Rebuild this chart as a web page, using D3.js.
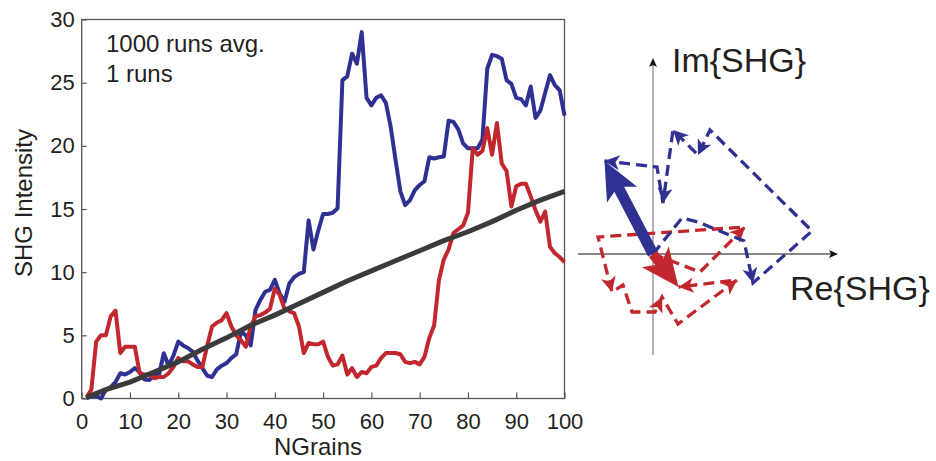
<!DOCTYPE html>
<html>
<head>
<meta charset="utf-8">
<script src="https://cdn.jsdelivr.net/npm/d3@7"></script>
<style>
  body { margin: 0; background: #fff; }
  svg { display: block; font-family: "Liberation Sans", Arial, Helvetica, sans-serif; }
</style>
</head>
<body>
<div id="chart"></div>
<script>
// grain counts on the x axis
const nGrains = d3.range(1, 101);

// single run, blue
const blueRun = [
  0.0, 0.2, 0.2, 0.0, 0.7, 0.9, 1.3, 2.0, 1.9, 2.1,
  2.4, 2.1, 1.5, 1.46, 1.86, 1.86, 3.58, 2.6, 3.4, 4.5,
  4.2, 4.0, 3.7, 3.0, 2.4, 1.8, 1.7, 2.3, 2.6, 2.8,
  3.2, 3.5, 5.3, 5.0, 4.2, 7.0, 7.8, 8.45, 8.6, 9.4,
  8.3, 7.66, 9.1, 9.6, 9.86, 10.0, 14.1, 11.8, 13.3, 14.6,
  14.6, 14.7, 15.06, 25.2, 25.5, 27.3, 26.5, 29.0, 23.8, 23.2,
  23.8, 24.0, 23.4, 21.5, 18.9, 16.4, 15.3, 15.7, 16.5, 16.9,
  17.2, 19.1, 19.0, 19.1, 19.15, 22.0, 21.9, 21.3, 20.2, 19.8,
  19.8, 19.8, 20.5, 26.1, 27.2, 27.1, 26.9, 25.2, 24.9, 23.8,
  23.7, 23.2, 24.7, 22.2, 22.8, 24.2, 25.6, 24.8, 24.4, 22.4
];

// single run, red
const redRun = [
  0.1, 0.7, 4.5, 5.0, 5.0, 6.5, 6.95, 3.6, 4.1, 4.1,
  4.1, 2.0, 1.9, 1.9, 1.6, 1.7, 1.7, 2.0, 2.5, 3.2,
  2.95, 2.95, 2.7, 2.5, 2.5, 4.2, 5.7, 6.0, 6.2, 6.75,
  5.7, 5.0, 4.6, 4.1, 5.7, 6.5, 6.6, 6.8, 7.1, 8.7,
  8.2, 7.1, 6.9, 6.75, 5.7, 3.6, 4.4, 4.3, 4.3, 4.5,
  3.3, 2.6, 2.7, 3.4, 1.9, 2.4, 1.7, 2.1, 2.0, 2.5,
  2.6, 3.2, 3.6, 3.6, 3.6, 3.5, 2.9, 2.8, 2.9, 2.7,
  3.3, 4.8, 5.8, 9.4, 11.0, 11.8, 13.1, 13.4, 13.7, 14.7,
  19.8, 19.3, 19.6, 21.4, 19.3, 21.8, 18.6, 18.0, 15.2, 16.8,
  17.0, 17.0, 16.0, 14.9, 14.0, 14.8, 12.0, 11.5, 11.2, 10.8
];

// 1000 runs average
const avgN = [1, 5, 10, 15, 20, 25, 30, 35, 40, 45, 50, 55, 60, 65, 70, 75, 80, 85, 90, 95, 100];
const avgSHG = [0.1, 0.7, 1.3, 2.1, 2.9, 3.9, 4.8, 5.8, 6.6, 7.5, 8.4, 9.3, 10.1, 10.9, 11.7, 12.5, 13.2, 14.0, 14.9, 15.7, 16.4];

const xTicks = [0, 10, 20, 30, 40, 50, 60, 70, 80, 90, 100];
const yTicks = [0, 5, 10, 15, 20, 25, 30];
const legendLines = ["1000 runs avg.", "1 runs"];

// phasor random walks (Re, Im), arbitrary units
const blueRe = [0, 2.9, 4.5, 9.1, 10.0, 15.9, 5.7, 4.5, 2.0, 1.0, 0.4, -4.85];
const blueIm = [0, 3.6, 3.2, 1.3, -2.9, 2.3, 12.4, 9.9, 12.4, 5.1, 8.7, 9.3];
const blueHeads = [4, 7, 8, 9, 11];
const redRe = [0, 4.7, 9.2, -5.5, -4.1, -3.0, -2.1, 0.2, 0.9, 2.5, 8.4, 2.55];
const redIm = [0, -1.8, 2.7, 1.7, -3.8, -3.1, -5.8, -5.8, -4.3, -7.0, -2.6, -3.3];
const redHeads = [2, 4, 8, 10, 11];

const blue = "#2e3192", red = "#c1272d", dark = "#3b3b3b", txt = "#231f20";

let width = 936, height = 461;
let plotL = 81.7, plotR = 564.5, plotT = 19.5, plotB = 398.5;

let svg = d3.select("#chart").append("svg")
  .attr("width", width)
  .attr("height", height);

let xScale = d3.scaleLinear().domain([0, 100]).range([plotL, plotR]);
let yScale = d3.scaleLinear().domain([0, 30]).range([plotB, plotT]);

let xAxis = d3.axisBottom(xScale).tickValues(xTicks)
  .tickSizeInner(-6).tickSizeOuter(0).tickPadding(15);
let yAxis = d3.axisLeft(yScale).tickValues(yTicks)
  .tickSizeInner(-5).tickSizeOuter(0).tickPadding(7);

let gx = svg.append("g").attr("transform", "translate(0," + plotB + ")").call(xAxis);
let gy = svg.append("g").attr("transform", "translate(" + plotL + ",0)").call(yAxis);
[gx, gy].forEach((g) => {
  g.select(".domain").remove();
  g.selectAll(".tick line").attr("stroke", "#555").attr("stroke-width", 1.2);
  g.selectAll(".tick text").attr("fill", txt).style("font-size", "22px");
});

svg.append("rect")
  .attr("x", plotL).attr("y", plotT)
  .attr("width", plotR - plotL).attr("height", plotB - plotT)
  .attr("fill", "none").attr("stroke", "#555").attr("stroke-width", 1.3);

let line = d3.line()
  .x((d) => xScale(d[0]))
  .y((d) => yScale(d[1]));

let series = [
  { pts: nGrains.map((n, i) => [n, blueRun[i]]), color: blue, w: 4 },
  { pts: nGrains.map((n, i) => [n, redRun[i]]), color: red, w: 4 },
  { pts: avgN.map((n, i) => [n, avgSHG[i]]), color: dark, w: 5 },
];
svg.selectAll(".series")
  .data(series)
  .enter()
  .append("path")
  .attr("class", "series")
  .attr("d", (d) => line(d.pts))
  .attr("fill", "none")
  .attr("stroke", (d) => d.color)
  .attr("stroke-width", (d) => d.w)
  .attr("stroke-linejoin", "round");

svg.selectAll(".legend")
  .data(legendLines)
  .enter()
  .append("text")
  .attr("x", 106)
  .attr("y", (d, i) => 52 + i * 30)
  .attr("fill", txt)
  .style("font-size", "24px")
  .text((d) => d);

svg.append("text")
  .attr("transform", "translate(32,203) rotate(-90)")
  .attr("text-anchor", "middle")
  .attr("fill", txt)
  .style("font-size", "24px")
  .text("SHG Intensity");

svg.append("text")
  .attr("x", 318).attr("y", 455)
  .attr("text-anchor", "middle")
  .attr("fill", txt)
  .style("font-size", "24px")
  .text("NGrains");

// ---- phasor diagram ----
let pRe = d3.scaleLinear().domain([0, 10]).range([653, 753]);
let pIm = d3.scaleLinear().domain([0, 10]).range([254, 154]);
let ph = svg.append("g");

function head(g, x0, y0, x1, y1, len, half, notch, color) {
  let dx = x1 - x0, dy = y1 - y0, l = Math.hypot(dx, dy);
  let ux = dx / l, uy = dy / l, px = -uy, py = ux;
  let bx = x1 - ux * len, by = y1 - uy * len;
  let nx = x1 - ux * (len - notch), ny = y1 - uy * (len - notch);
  g.append("path")
    .attr("d", "M" + x1 + "," + y1 +
      "L" + (bx + px * half) + "," + (by + py * half) +
      "L" + nx + "," + ny +
      "L" + (bx - px * half) + "," + (by - py * half) + "Z")
    .attr("fill", color);
  return [nx, ny];
}

// axes
ph.append("line")
  .attr("x1", pRe(0)).attr("x2", pRe(0))
  .attr("y1", pIm(-10.1)).attr("y2", pIm(19.2))
  .attr("stroke", "#999").attr("stroke-width", 1.5);
head(ph, pRe(0), pIm(0), pRe(0), pIm(19.6), 9, 4, 2, "#111");
ph.append("line")
  .attr("x1", pRe(-7.5)).attr("x2", pRe(18.2))
  .attr("y1", pIm(0)).attr("y2", pIm(0))
  .attr("stroke", "#111").attr("stroke-width", 1.2);
head(ph, pRe(0), pIm(0), pRe(18.5), pIm(0), 9, 4, 2, "#111");

ph.append("text")
  .attr("x", 672).attr("y", 72)
  .attr("fill", txt).style("font-size", "34px")
  .text("Im{SHG}");
ph.append("text")
  .attr("x", 790).attr("y", 300)
  .attr("fill", txt).style("font-size", "34px")
  .text("Re{SHG}");

function walk(re, im, heads, color) {
  let pts = re.map((r, i) => [pRe(r), pIm(im[i])]);
  ph.append("path")
    .attr("d", d3.line()(pts))
    .attr("fill", "none")
    .attr("stroke", color)
    .attr("stroke-width", 3.3)
    .attr("stroke-dasharray", "11,6");
  heads.forEach((k) => {
    head(ph, pts[k - 1][0], pts[k - 1][1], pts[k][0], pts[k][1], 15, 7.5, 4, color);
  });
}
walk(redRe, redIm, redHeads, red);
walk(blueRe, blueIm, blueHeads, blue);

function bigArrow(re, im, color, w) {
  let x1 = pRe(re), y1 = pIm(im);
  let g = ph.append("g");
  let n = head(g, pRe(0), pIm(0), x1, y1, 38, 17, 9, color);
  g.insert("line", "path")
    .attr("x1", pRe(0)).attr("y1", pIm(0))
    .attr("x2", n[0]).attr("y2", n[1])
    .attr("stroke", color).attr("stroke-width", w);
}
bigArrow(blueRe[blueRe.length - 1], blueIm[blueIm.length - 1], blue, 11);
bigArrow(redRe[redRe.length - 1], redIm[redIm.length - 1], red, 10);
</script>
</body>
</html>
